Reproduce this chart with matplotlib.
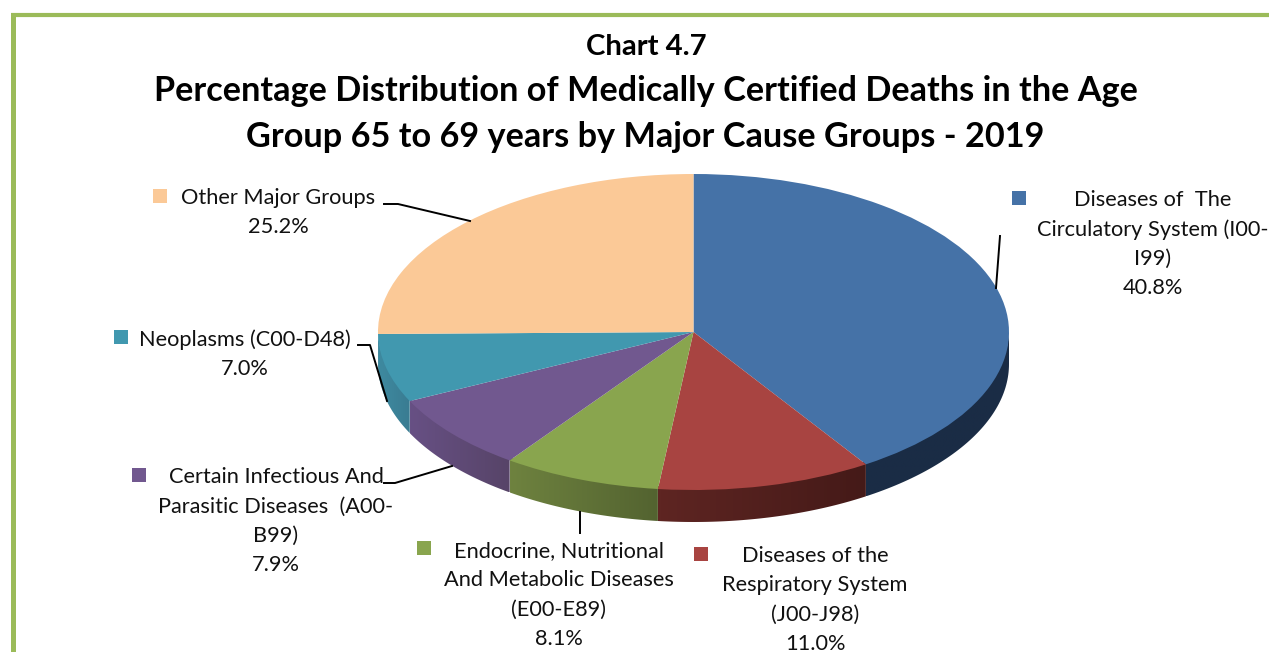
"""Chart 4.7: share of medically certified deaths, age 65 to 69, as a tilted pie."""

import matplotlib
matplotlib.use("Agg")
import matplotlib.pyplot as plt
import numpy as np
from matplotlib.colors import to_rgb
from matplotlib.patches import Polygon

plt.rcParams["font.family"] = ["Lato", "DejaVu Sans"]

CHART_NO = "Chart 4.7"
TITLE = ("Percentage Distribution of Medically Certified Deaths in the Age\n"
         "Group 65 to 69 years by Major Cause Groups - 2019")

LABELS = [
    "Diseases of  The\nCirculatory System (I00-\nI99)",
    "Diseases of the\nRespiratory System\n(J00-J98)",
    "Endocrine, Nutritional\nAnd Metabolic Diseases\n(E00-E89)",
    "Certain Infectious And\nParasitic Diseases  (A00-\nB99)",
    "Neoplasms (C00-D48)",
    "Other Major Groups",
]
VALUES = [40.8, 11.0, 8.1, 7.9, 7.0, 25.2]

COLORS = ["#4572A7", "#A84441", "#89A54E", "#71588F", "#4198AF", "#FBC997"]
SIDE_LEFT = ["#1A2C45", "#5E2522", "#6E823F", "#675084", "#3E8AA0", "#C9A070"]
SIDE_RIGHT = ["#1A2C45", "#451A18", "#536330", "#574468", "#3A7C92", "#C9A070"]

W, H = 1269, 652
CX, CY, RX, RY, DEPTH = 693.5, 332, 315.5, 158, 32

# pixel layout of labels: text centre x, first line y, legend square x, y
TEXT_POS = [(1153, 200), (815, 556), (559, 551), (276, 477), (245, 340), (278, 198)]
KEY_POS = [(1019, 198), (701, 554), (424, 548), (139, 475), (121, 337), (160, 196)]
LEADERS = [
    [(1000, 236), (996, 288)],
    [],
    [(580, 512), (580, 533)],
    [(384, 483), (395, 483), (452, 466)],
    [(358, 345), (370, 345), (387, 401)],
    [(384, 204), (398, 204), (470, 221)],
]

fig = plt.figure(figsize=(W / 100, H / 100), dpi=100, facecolor="white")

# pie axes span exactly the ellipse, so one data unit is RX by RY pixels
ax_pie = fig.add_axes([(CX - RX) / W, 1 - (CY + RY) / H, 2 * RX / W, 2 * RY / H])
d = DEPTH / RY

base, _ = ax_pie.pie(VALUES, colors=SIDE_RIGHT, startangle=90, counterclock=False,
                     radius=1, center=(0, -d), wedgeprops={"linewidth": 0})
for w in base:
    w.set_visible(False)

for w, c1, c2 in zip(base, SIDE_LEFT, SIDE_RIGHT):
    t1, t2 = max(w.theta1, -180), min(w.theta2, 0)
    if t2 <= t1:
        continue
    th = np.radians(np.linspace(t1, t2, 60))
    xs, ys = np.cos(th), np.sin(th)
    band = Polygon(np.vstack([np.c_[xs, ys - d], np.c_[xs, ys + 0.02][::-1]]),
                   transform=ax_pie.transData, facecolor="none", edgecolor="none")
    ax_pie.add_patch(band)
    # wedge side fades horizontally from one shade to the other
    ramp = np.linspace(to_rgb(c1), to_rgb(c2), 64)[None, :, :]
    im = ax_pie.imshow(ramp, extent=(xs.min(), xs.max(), ys.min() - d, ys.max() + 0.02),
                       aspect="auto", zorder=1.5)
    im.set_clip_path(band)
    im.set_clip_box(fig.bbox)  # the side hangs below the pie axes

top, _ = ax_pie.pie(VALUES, colors=COLORS, startangle=90, counterclock=False,
                    radius=1, center=(0, 0), wedgeprops={"linewidth": 0, "zorder": 2})
ax_pie.set_aspect("auto")
ax_pie.set_xlim(-1, 1)
ax_pie.set_ylim(-1, 1)
for p in top:
    p.set_clip_on(False)

# overlay in pixel coordinates for border, labels and leader lines
ax = fig.add_axes([0, 0, 1, 1], facecolor="none")
ax.set_xlim(0, W)
ax.set_ylim(H, 0)
ax.axis("off")

ax.plot([13, 13], [H, 13], color="#9BBB59", lw=3.6, solid_capstyle="butt")
ax.plot([11, W], [14.5, 14.5], color="#9BBB59", lw=3.0, solid_capstyle="butt")

ax.text(646.5, 47, CHART_NO, ha="center", va="center", fontsize=21.2, fontweight="bold")
ax.text(645.5, 114, TITLE, ha="center", va="center", fontsize=24.7, fontweight="bold",
        linespacing=1.55)

for label, val, col, (tx, ty), (kx, ky), pts in zip(LABELS, VALUES, COLORS, TEXT_POS,
                                                    KEY_POS, LEADERS):
    lines = label.split("\n") + [f"{val:.1f}%"]
    for i, line in enumerate(lines):
        ax.text(tx, ty + i * 29.4, line, ha="center", va="center", fontsize=15.7,
                color="#111111")
    ax.scatter([kx], [ky], marker="s", s=100, color=col, linewidths=0)
    if pts:
        ax.plot(*zip(*pts), color="black", lw=1.4)

fig.savefig("out.png", dpi=100)
plt.close(fig)
